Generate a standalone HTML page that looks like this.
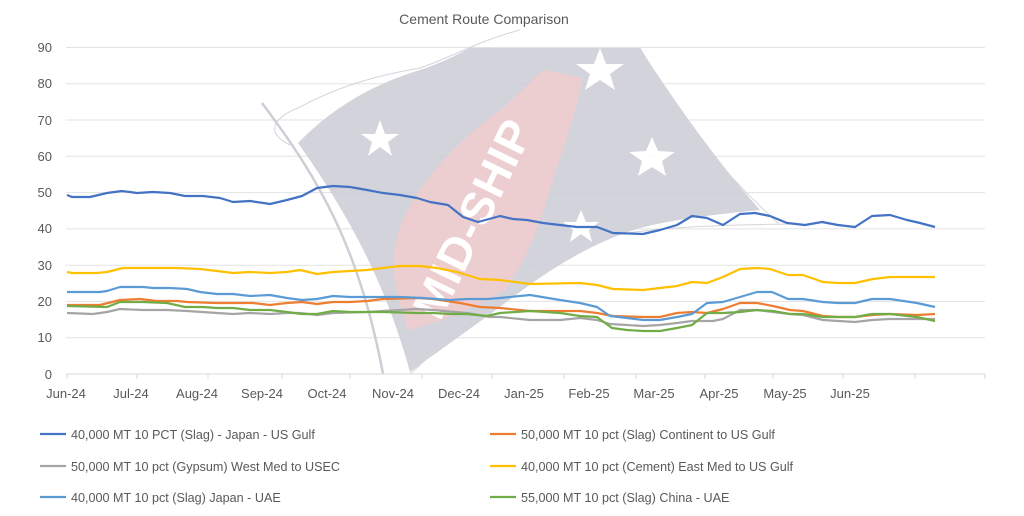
<!DOCTYPE html>
<html><head><meta charset="utf-8"><style>
html,body{margin:0;padding:0;background:#fff;}
svg{display:block;font-family:"Liberation Sans",sans-serif;}
</style></head><body>
<svg width="1024" height="516" viewBox="0 0 1024 516">
<rect width="1024" height="516" fill="#fff"/>
<text x="484" y="24" text-anchor="middle" font-size="14" fill="#595959">Cement Route Comparison</text>
<g stroke="#e3e3e3" stroke-width="1">
<line x1="66" x2="985" y1="47.5" y2="47.5"/><line x1="66" x2="985" y1="83.8" y2="83.8"/>
<line x1="66" x2="985" y1="120" y2="120"/><line x1="66" x2="985" y1="156.3" y2="156.3"/>
<line x1="66" x2="985" y1="192.6" y2="192.6"/><line x1="66" x2="985" y1="228.9" y2="228.9"/>
<line x1="66" x2="985" y1="265.2" y2="265.2"/><line x1="66" x2="985" y1="301.4" y2="301.4"/>
<line x1="66" x2="985" y1="337.7" y2="337.7"/>
</g>
<!-- watermark -->
<g opacity="0.9">
<path d="M298,143 C330,110 370,85 420,70 C450,60 465,50 470,48 L640,48 C680,110 720,165 760,210 C720,214 680,218 640,228 C600,240 560,262 520,292 C480,322 440,350 410,372 C390,300 360,230 298,143 Z" fill="#cfcfd9"/>
<path d="M290,145 C260,130 280,115 298,108 C340,85 380,75 420,68 C450,58 480,40 520,30" fill="none" stroke="#d0d0d8" stroke-width="1"/>
<path d="M262,103 C320,180 360,250 383,374" fill="none" stroke="#c9c9d2" stroke-width="2.5"/>
<path d="M640,48 C680,120 720,170 780,225 M410,374 C480,310 540,250 600,238 C660,225 740,225 790,224" fill="none" stroke="#d0d0d8" stroke-width="1"/>
<path d="M408,330 C395,290 385,260 405,215 C425,175 460,140 500,110 C525,90 540,70 545,70 L582,78 C578,110 565,140 550,190 C535,240 520,270 505,290 C470,310 440,322 408,330 Z" fill="#ecc9cb"/>
<text x="0" y="0" transform="translate(440,322) rotate(-64)" font-size="46" font-weight="bold" fill="#fff" letter-spacing="1">MID-SHIP</text>
<g fill="#fff">
<polygon points="380,120 385,134 399,134 388,142 392,156 380,147 368,156 372,142 361,134 375,134"/>
<polygon points="600,48 606,64 624,64 610,74 615,90 600,80 585,90 590,74 576,64 594,64"/>
<polygon points="652,137 658,151 675,152 662,161 666,176 652,167 638,176 642,161 629,152 646,151"/>
<polygon points="581,210 586,222 599,222 589,230 592,242 581,234 570,242 573,230 563,222 576,222"/>
</g>
</g>
<!-- axis -->
<line x1="66" x2="985" y1="374" y2="374" stroke="#d9d9d9" stroke-width="1"/>
<g stroke="#d9d9d9"><line x1="67" x2="67" y1="374" y2="379"/><line x1="137" x2="137" y1="374" y2="379"/><line x1="208" x2="208" y1="374" y2="379"/><line x1="282" x2="282" y1="374" y2="379"/><line x1="350" x2="350" y1="374" y2="379"/><line x1="422" x2="422" y1="374" y2="379"/><line x1="492" x2="492" y1="374" y2="379"/><line x1="564" x2="564" y1="374" y2="379"/><line x1="636" x2="636" y1="374" y2="379"/><line x1="705" x2="705" y1="374" y2="379"/><line x1="773" x2="773" y1="374" y2="379"/><line x1="843" x2="843" y1="374" y2="379"/><line x1="915" x2="915" y1="374" y2="379"/><line x1="985" x2="985" y1="374" y2="379"/></g>
<g font-size="13" fill="#595959" text-anchor="end">
<text x="52" y="52">90</text><text x="52" y="88">80</text><text x="52" y="125">70</text><text x="52" y="161">60</text><text x="52" y="197">50</text><text x="52" y="233">40</text><text x="52" y="270">30</text><text x="52" y="306">20</text><text x="52" y="342">10</text><text x="52" y="379">0</text>
</g>
<g font-size="13" fill="#595959" text-anchor="middle">
<text x="66" y="398">Jun-24</text><text x="131" y="398">Jul-24</text><text x="197" y="398">Aug-24</text><text x="262" y="398">Sep-24</text><text x="327" y="398">Oct-24</text><text x="393" y="398">Nov-24</text><text x="459" y="398">Dec-24</text><text x="524" y="398">Jan-25</text><text x="589" y="398">Feb-25</text><text x="654" y="398">Mar-25</text><text x="719" y="398">Apr-25</text><text x="785" y="398">May-25</text><text x="850" y="398">Jun-25</text>
</g>
<g fill="none" stroke-width="2.2" stroke-linejoin="round">
<polyline stroke="#a5a5a5" points="67,313 93,314 107,312 120,309 143,310 167,310 187,311 217,313 233,314 250,313 270,314 287,313 300,313 317,315 333,313 367,312 400,310 417,309 433,310 467,313 490,317 500,317 530,320 560,320 580,318 597,320 610,324 643,326 660,325 677,323 692,321 713,321 723,319 740,310 757,310 773,312 790,314 803,315 823,320 855,322 872,320 890,319 917,319 935,319"/>
<polyline stroke="#ed7d31" points="67,305 100,305 120,300 140,299 157,301 177,301 187,302 217,303 233,303 253,303 270,305 287,303 302,302 317,304 333,302 350,302 367,301 383,299 417,298 433,299 460,303 480,307 500,308 530,311 580,311 597,313 613,316 643,317 660,317 677,313 692,312 707,313 723,309 740,303 757,303 773,306 790,310 803,311 823,316 838,317 855,317 872,315 890,314 917,315 935,314"/>
<polyline stroke="#70ad47" points="67,306 107,307 120,302 143,302 167,303 185,307 203,307 217,308 233,308 250,310 270,310 287,312 302,314 317,314 333,311 350,312 383,312 417,313 433,313 450,314 467,314 487,316 500,313 530,311 560,313 580,316 597,317 612,328 627,330 643,331 660,331 677,328 692,325 707,313 723,313 740,312 757,310 773,311 790,314 803,314 823,317 855,317 872,314 890,314 917,317 935,321"/>
<polyline stroke="#5b9bd5" points="67,292 100,292 107,291 120,287 143,287 153,288 170,288 187,289 200,292 217,294 233,294 250,296 270,295 287,298 302,300 317,299 333,296 350,297 400,297 423,298 450,300 467,299 487,299 500,298 530,295 560,300 580,303 597,307 610,316 627,318 643,320 660,320 677,317 692,314 707,303 723,302 740,297 757,292 772,292 788,299 803,299 823,302 838,303 855,303 872,299 890,299 917,303 935,307"/>
<polyline stroke="#ffc000" points="67,272 72,273 97,273 107,272 123,268 137,268 177,268 200,269 217,271 233,273 250,272 270,273 287,272 300,270 317,274 333,272 350,271 367,270 383,268 400,266 420,266 437,268 457,272 480,279 500,280 530,284 580,283 597,285 613,289 643,290 660,288 677,286 692,282 707,283 723,277 740,269 758,268 770,269 788,275 803,275 823,282 838,283 855,283 873,279 890,277 907,277 930,277 935,277"/>
<polyline stroke="#4472c4" points="67,195 72,197 90,197 107,193 122,191 137,193 153,192 170,193 185,196 203,196 220,198 233,202 250,201 270,204 287,200 302,196 317,188 333,186 350,187 367,190 383,193 400,195 417,198 430,202 448,205 463,217 478,222 500,216 513,219 527,220 543,223 560,225 577,227 597,227 613,233 643,234 660,230 677,225 692,216 707,218 723,225 740,214 755,213 770,216 787,223 805,225 822,222 838,225 855,227 872,216 890,215 907,220 920,223 935,227"/>
</g>
<!-- legend -->
<g stroke-width="2.2">
<line x1="40" x2="66" y1="434" y2="434" stroke="#4472c4"/>
<line x1="490" x2="516" y1="434" y2="434" stroke="#ed7d31"/>
<line x1="40" x2="66" y1="466" y2="466" stroke="#a5a5a5"/>
<line x1="490" x2="516" y1="466" y2="466" stroke="#ffc000"/>
<line x1="40" x2="66" y1="497" y2="497" stroke="#5b9bd5"/>
<line x1="490" x2="516" y1="497" y2="497" stroke="#70ad47"/>
</g>
<g font-size="12.6" fill="#595959" xml:space="preserve">
<text x="71" y="439">40,000 MT 10 PCT  (Slag) - Japan - US Gulf</text>
<text x="521" y="439">50,000 MT 10 pct (Slag) Continent  to US Gulf</text>
<text x="71" y="471">50,000 MT 10 pct  (Gypsum) West Med  to USEC</text>
<text x="521" y="471">40,000 MT 10 pct (Cement) East Med to US Gulf</text>
<text x="71" y="502">40,000 MT 10 pct  (Slag) Japan - UAE</text>
<text x="521" y="502">55,000 MT 10 pct  (Slag) China - UAE</text>
</g>
</svg>
</body></html>
